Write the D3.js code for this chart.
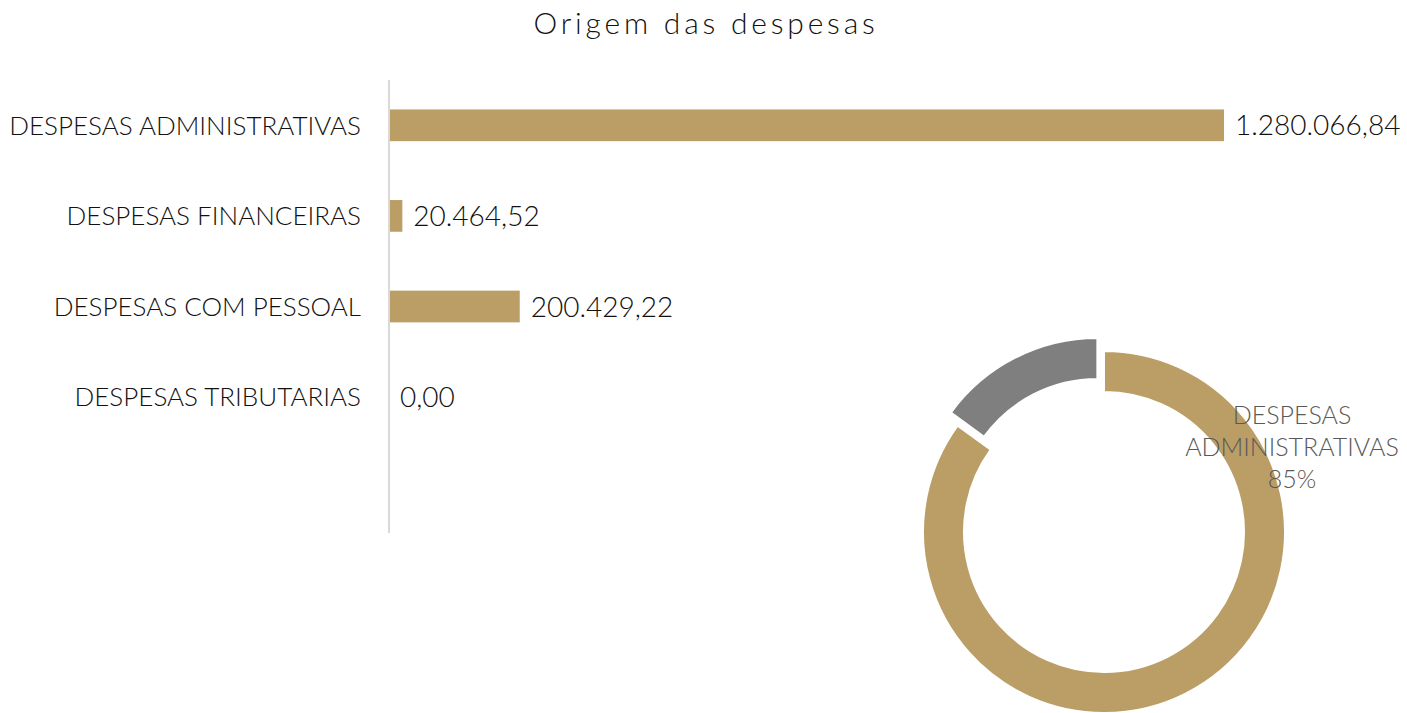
<!DOCTYPE html>
<html>
<head>
<meta charset="utf-8">
<script src="https://cdn.jsdelivr.net/npm/d3@7"></script>
<style>
  html, body { margin: 0; padding: 0; background: #fff; }
  svg { display: block; }
  text { font-family: "Lato", "Open Sans", sans-serif; font-weight: 300; }
</style>
</head>
<body>
<svg id="chart" width="1407" height="713"></svg>
<script>
const title = "Origem das despesas";
const categories = ["DESPESAS ADMINISTRATIVAS", "DESPESAS FINANCEIRAS", "DESPESAS COM PESSOAL", "DESPESAS TRIBUTARIAS"];
const values = [1280066.84, 20464.52, 200429.22, 0.00];
const donutCategories = ["DESPESAS ADMINISTRATIVAS", "DEMAIS DESPESAS"];
const donutValues = [85, 15];
const donutColors = ["#BB9E66", "#7F7F7F"];
const barColor = "#BB9E66";

const W = 1407, H = 713;
const svg = d3.select("#chart");

const ptBR = d3.formatLocale({ decimal: ",", thousands: ".", grouping: [3], currency: ["R$", ""] });
const fmt = ptBR.format(",.2f");

// Title
svg.append("text")
  .attr("x", 706).attr("y", 34)
  .attr("text-anchor", "middle")
  .attr("font-size", 30)
  .attr("letter-spacing", 3.8)
  .attr("fill", "#111")
  .text(title);

// Bar chart
const axisX = 389;
const y = d3.scaleBand()
  .domain(categories)
  .range([80, 80 + 4 * 90.6])
  .paddingInner(0.65)
  .paddingOuter(0.325);
const x = d3.scaleLinear()
  .domain([0, d3.max(values)])
  .range([axisX, 1224]);

const g = svg.append("g");
g.selectAll("rect.bar")
  .data(categories)
  .join("rect")
  .attr("class", "bar")
  .attr("x", x(0))
  .attr("y", d => y(d))
  .attr("width", (d, i) => x(values[i]) - x(0))
  .attr("height", y.bandwidth())
  .attr("fill", barColor);

// axis line
g.append("line")
  .attr("x1", axisX).attr("x2", axisX)
  .attr("y1", 80).attr("y2", 533)
  .attr("stroke", "#D9D9D9").attr("stroke-width", 2);

// category labels
g.selectAll("text.cat")
  .data(categories)
  .join("text")
  .attr("class", "cat")
  .attr("x", 361)
  .attr("y", d => y(d) + y.bandwidth() / 2)
  .attr("dy", "0.36em")
  .attr("text-anchor", "end")
  .attr("font-size", 26)
  .attr("fill", "#111")
  .text(d => d);

// value labels
g.selectAll("text.val")
  .data(categories)
  .join("text")
  .attr("class", "val")
  .attr("x", (d, i) => x(values[i]) + 11)
  .attr("y", d => y(d) + y.bandwidth() / 2)
  .attr("dy", "0.36em")
  .attr("font-size", 28)
  .attr("fill", "#111")
  .text((d, i) => fmt(values[i]));

// Donut
const cx = 1104, cy = 532, rOuter = 181, rInner = 140, explode = [0, 14.6];
const pie = d3.pie().sort(null).value(d => d)(donutValues);
const arc = d3.arc().innerRadius(rInner).outerRadius(rOuter);
const dg = svg.append("g").attr("transform", `translate(${cx},${cy})`);
dg.selectAll("path")
  .data(pie)
  .join("path")
  .attr("d", arc)
  .attr("fill", (d, i) => donutColors[i])
  .attr("stroke", "#fff")
  .attr("stroke-width", 2)
  .attr("transform", (d, i) => {
    const a = (d.startAngle + d.endAngle) / 2;
    return `translate(${Math.sin(a) * explode[i]},${-Math.cos(a) * explode[i]})`;
  });

const total = d3.sum(donutValues);
const lbl = dg.append("text")
  .attr("text-anchor", "middle")
  .attr("font-size", 25)
  .attr("fill", "#595959");
const lines = ["DESPESAS", "ADMINISTRATIVAS", d3.format(".0%")(donutValues[0] / total)];
lines.forEach((t, i) => {
  lbl.append("tspan").attr("x", 188).attr("y", -108 + i * 32).text(t);
});
</script>
</body>
</html>
